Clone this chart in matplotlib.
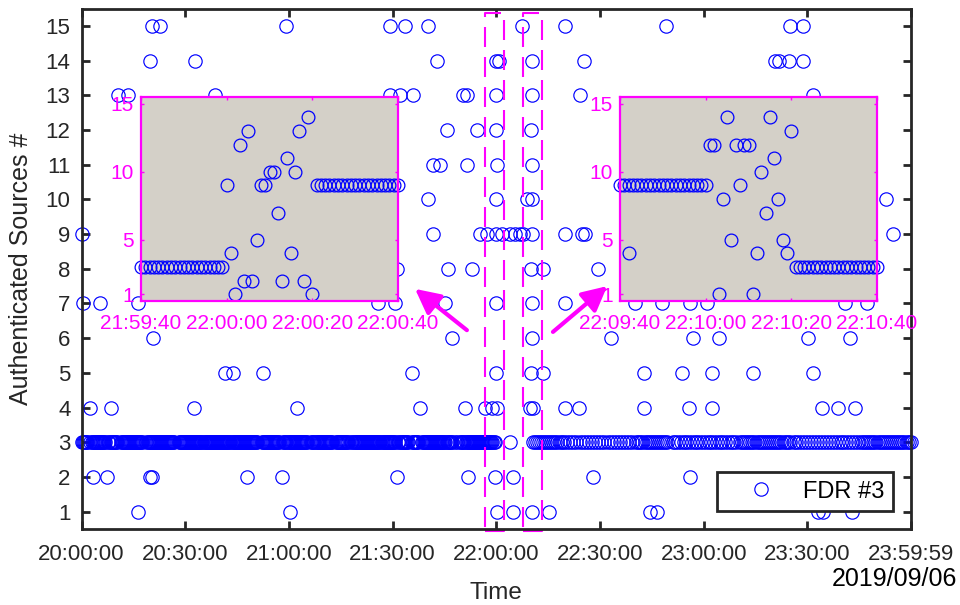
import numpy as np
import matplotlib.pyplot as plt

plt.rcParams['font.family'] = ['Liberation Sans', 'DejaVu Sans']

# ---- main series: minutes after 20:00:00 (2019/09/06) ----
# runs where FDR #3 reports a steady 3 sources (start, end, sampling step)
base_start = [0.0, 2.6, 7.8, 11.3, 18.8, 28.1, 52.1, 58.4, 66.5, 73.5, 78.1, 91.7,
              95.5, 98.4, 108.2, 109.6, 124.0,
              130.5, 140.5, 160.5, 171.0, 190.5, 206.0, 225.5]
base_end = [1.6, 6.8, 10.3, 17.8, 27.1, 51.1, 57.4, 65.5, 72.5, 77.1, 90.7, 94.5,
            97.4, 107.2, 108.6, 119.5, 124.0,
            140.0, 160.0, 170.0, 190.0, 205.0, 225.0, 240.0]
base_step = [0.3] * 16 + [1.0] + [0.6, 0.9, 0.6, 0.8, 0.6, 0.85, 0.6]
base_value = 3

# scattered readings, grouped by number of sources
t15 = [20.3, 22.7, 59.2, 89.3, 93.6, 100.3, 127.4, 139.9, 169.1, 205.0, 208.7]
t14 = [19.8, 32.8, 102.8, 119.9, 120.8, 130.3, 145.5, 200.7, 201.9, 204.8, 208.7]
t13 = [10.6, 13.5, 38.6, 89.3, 92.2, 96.0, 110.5, 111.5, 119.9, 130.3, 144.2, 211.5]
t12 = [105.7, 114.4, 119.9, 130.1]
t11 = [101.8, 103.7, 111.5, 120.2, 130.3]
t10 = [100.3, 119.9, 128.8, 130.3, 232.8]
t9 = [0.0, 101.8, 115.3, 117.2, 119.9, 121.6, 124.0, 125.4, 126.9, 127.8, 130.3,
      139.9, 144.7, 145.7, 234.9]
t8 = [91.2, 106.1, 112.9, 130.1, 133.6, 149.4]
t7 = [0.5, 5.4, 16.4, 85.9, 90.7, 105.3, 119.9, 130.3, 139.9, 160.2, 167.9,
      176.1, 181.0, 220.9, 227.2]
t6 = [20.8, 107.1, 130.3, 153.2, 177.0, 184.3, 210.3, 222.2]
t5 = [41.5, 43.8, 52.4, 95.5, 119.9, 130.1, 133.6, 162.6, 173.8, 182.5, 194.4, 211.5]
t4 = [2.5, 8.4, 32.6, 62.3, 97.9, 110.9, 116.8, 118.7, 120.1, 129.8, 130.7, 139.9,
      144.0, 162.6, 175.9, 182.5, 214.2, 219.0, 223.8]
t2 = [3.4, 7.3, 19.8, 20.3, 47.8, 57.9, 91.2, 111.7, 119.6, 124.7, 148.1, 176.1]
t1 = [16.4, 60.3, 120.1, 124.9, 130.3, 135.3, 164.5, 166.4, 213.2, 214.6, 222.9]

x_ticks = [0, 30, 60, 90, 120, 150, 180, 210, 239.983]
x_labels = ['20:00:00', '20:30:00', '21:00:00', '21:30:00', '22:00:00',
            '22:30:00', '23:00:00', '23:30:00', '23:59:59']

# ---- zoomed windows: seconds after window start ----
z1_labels = ['21:59:40', '22:00:00', '22:00:20', '22:00:40']
z1_runs = [(0, 19, 3), (41, 60, 9)]
z1_sec = [20, 21, 22, 23, 24, 25, 26, 27, 28, 29, 30, 31, 32, 33, 34, 35, 36, 37, 38, 39, 40]
z1_val = [9, 4, 1, 12, 2, 13, 2, 5, 9, 9, 10, 10, 7, 2, 11, 4, 10, 13, 2, 14, 1]

z2_labels = ['22:09:40', '22:10:00', '22:10:20', '22:10:40']
z2_runs = [(0, 20, 9), (41, 60, 3)]
z2_sec = [2, 21, 22, 23, 24, 25, 26, 27, 28, 29, 30, 31, 32, 33, 34, 35, 36, 37, 38, 39, 40]
z2_val = [4, 12, 12, 1, 8, 14, 5, 12, 9, 12, 12, 1, 4, 10, 7, 14, 11, 8, 5, 4, 13]

# dashed boxes marking the zoomed windows (minutes)
boxes = [(116.8, 122.3), (127.8, 133.3)]

blue = '#0000FF'
mag = '#FF00FF'
dark = '#262626'

# build main arrays
rows = {15: t15, 14: t14, 13: t13, 12: t12, 11: t11, 10: t10, 9: t9, 8: t8,
        7: t7, 6: t6, 5: t5, 4: t4, 2: t2, 1: t1}
xs, ys = [], []
for s, e, st in zip(base_start, base_end, base_step):
    tt = np.arange(s, e + 1e-6, st)
    xs.extend(tt)
    ys.extend([base_value] * len(tt))
for v, tt in rows.items():
    xs.extend(tt)
    ys.extend([v] * len(tt))

fig = plt.figure(figsize=(9.6, 6.05), dpi=100)
ax = fig.add_axes([81.5 / 960, 76 / 605, 829.5 / 960, 520.5 / 605])

ax.plot(xs, ys, 'o', ms=9.6, mfc='none', mec=blue, mew=0.85, clip_on=False,
        label='FDR #3', zorder=3)

for x0, x1 in boxes:
    ax.plot([x0, x1, x1, x0, x0], [0.45, 0.45, 15.37, 15.37, 0.45], color=mag,
            lw=1.5, ls=(0, (9.6, 4.8)), clip_on=False, zorder=4)

ax.set_xlim(0, 239.983)
ax.set_ylim(0.5, 15.5)
ax.set_xticks(x_ticks)
ax.set_xticklabels(x_labels)
ax.set_yticks(range(1, 16))
ax.tick_params(direction='in', length=6, width=2, colors=dark, labelsize=16,
               top=True, right=True, pad=8)
ax.tick_params(axis='x', pad=11)
for sp in ax.spines.values():
    sp.set_linewidth(2)
    sp.set_color(dark)
    sp.set_zorder(5)

ax.set_xlabel('Time', fontsize=17.5, color=dark, labelpad=12)
ax.set_ylabel('Authenticated Sources #', fontsize=18, color=dark, labelpad=9)
fig.text(957 / 960, 1 - 579 / 605, '2019/09/06', fontsize=18, ha='right',
         va='center', color='black')

leg = ax.legend(loc='lower right', bbox_to_anchor=(0.978, 0.035), borderaxespad=0,
                fontsize=17, fancybox=False, framealpha=1, edgecolor=dark,
                handlelength=3.0, handletextpad=0.3, borderpad=0.35, numpoints=1)
leg.get_frame().set_linewidth(2)
leg.set_zorder(6)


def draw_zoom(left, runs, sec, val, labels):
    axz = fig.add_axes([left / 960, 1 - 301 / 605, 257 / 960, 204 / 605])
    axz.set_facecolor('#D4D0C8')
    zx, zy = [], []
    for s, e, v in runs:
        tt = np.arange(s, e + 1)
        zx.extend(tt)
        zy.extend([v] * len(tt))
    zx.extend(sec)
    zy.extend(val)
    axz.plot(zx, zy, 'o', ms=9.2, mfc='none', mec=blue, mew=0.9, clip_on=False)
    axz.set_xlim(0, 60)
    axz.set_ylim(0.5, 15.5)
    axz.set_xticks([0, 20, 40, 60])
    axz.set_xticklabels(labels)
    axz.set_yticks([1, 5, 10, 15])
    axz.tick_params(direction='in', length=2.5, width=1, colors=mag, labelsize=15,
                    top=True, right=True, pad=5)
    axz.tick_params(axis='x', pad=9)
    for sp in axz.spines.values():
        sp.set_linewidth(1.6)
        sp.set_color(mag)
    return axz


draw_zoom(141, z1_runs, z1_sec, z1_val, z1_labels)
draw_zoom(620, z2_runs, z2_sec, z2_val, z2_labels)

arrow = dict(arrowstyle='-|>,head_length=0.75,head_width=0.38', lw=3, color=mag,
             shrinkA=0, shrinkB=0, mutation_scale=20)
ax.annotate('', xy=(96.5, 7.42), xytext=(111.5, 6.23), arrowprops=arrow)
ax.annotate('', xy=(152.1, 7.5), xytext=(136.4, 6.18), arrowprops=arrow)

fig.savefig('out.png', dpi=100)
